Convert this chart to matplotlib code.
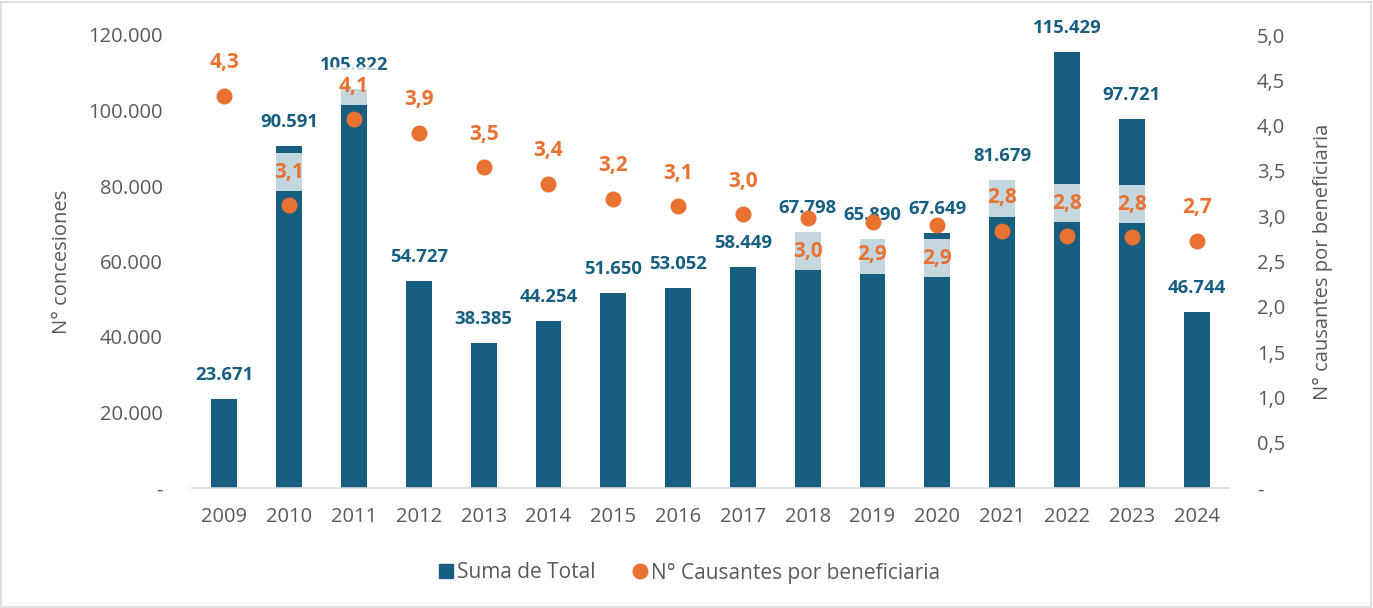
import numpy as np
import matplotlib
matplotlib.use("Agg")
import matplotlib.pyplot as plt
from matplotlib.ticker import FuncFormatter, MultipleLocator
from matplotlib.lines import Line2D
from matplotlib.patches import Rectangle

years = ["2009", "2010", "2011", "2012", "2013", "2014", "2015", "2016",
         "2017", "2018", "2019", "2020", "2021", "2022", "2023", "2024"]
totals = [23671, 90591, 105822, 54727, 38385, 44254, 51650, 53052,
          58449, 67798, 65890, 67649, 81679, 115429, 97721, 46744]
ratios = [4.33, 3.12, 4.07, 3.92, 3.54, 3.36, 3.19, 3.11,
          3.02, 2.98, 2.94, 2.90, 2.84, 2.78, 2.77, 2.73]
labels_below = ["2018", "2019", "2020"]

BLUE = "#175E80"
ORANGE = "#E97132"
GRAY = "#595959"

plt.rcParams['font.family'] = ['Open Sans', 'DejaVu Sans']

W, H = 1373, 608
fig = plt.figure(figsize=(W / 100, H / 100), dpi=100)
fig.patches.append(Rectangle((1 / W, 1 / H), 1 - 3 / W, 1 - 3 / H, transform=fig.transFigure,
                             fill=False, edgecolor="#D9D9D9", linewidth=1.2))

ax = fig.add_axes([192 / W, (H - 488) / H, (1229 - 192) / W, (488 - 35) / H])
x = np.arange(len(years))
ax.bar(x, totals, width=0.4, color=BLUE, zorder=2)
ax.set_xlim(-0.5, len(years) - 0.5)
ax.set_ylim(0, 120000)
ax.yaxis.set_major_locator(MultipleLocator(20000))
ax.yaxis.set_major_formatter(FuncFormatter(
    lambda v, p: "-" if v == 0 else f"{int(round(v)):,}".replace(",", ".")))
ax.set_xticks(x)
ax.set_xticklabels(years)
for s in ["top", "left", "right"]:
    ax.spines[s].set_visible(False)
ax.spines["bottom"].set_color("#D9D9D9")
ax.spines["bottom"].set_linewidth(1.2)
ax.tick_params(axis="both", length=0, labelsize=14.5, labelcolor=GRAY)
ax.tick_params(axis="y", pad=21)
ax.tick_params(axis="x", pad=14)
ax.set_ylabel("N° concesiones", fontsize=14.5, color=GRAY, labelpad=12)

for i, v in enumerate(totals):
    ax.annotate(f"{v:,}".replace(",", "."), (x[i], v), xytext=(0, 24 * 0.72),
                textcoords="offset points", ha="center", va="center",
                fontsize=13.3, fontweight="bold", color=BLUE, zorder=3)

ax2 = ax.twinx()
ax2.set_ylim(0, 5)
ax2.yaxis.set_major_locator(MultipleLocator(0.5))
ax2.yaxis.set_major_formatter(FuncFormatter(
    lambda v, p: "-" if abs(v) < 1e-9 else f"{v:.1f}".replace(".", ",")))
for s in ax2.spines.values():
    s.set_visible(False)
ax2.tick_params(axis="y", length=0, labelsize=14.5, labelcolor=GRAY, pad=20)
ax2.set_ylabel("N° causantes por beneficiaria", fontsize=14.5, color=GRAY, labelpad=20)

ax2.plot(x, ratios, linestyle="none", marker="o", ms=11.5, color=ORANGE,
         markeredgewidth=0, zorder=3)
for i, r in enumerate(ratios):
    dy = -33 if years[i] in labels_below else 33
    ax2.annotate(f"{r:.1f}".replace(".", ","), (x[i], r), xytext=(0, dy * 0.72),
                 textcoords="offset points", ha="center", va="center",
                 fontsize=15, fontweight="bold", color=ORANGE, zorder=4,
                 bbox=dict(boxstyle="square,pad=0.41", fc="white", ec="none", alpha=0.75))

handles = [
    Line2D([], [], linestyle="none", marker="s", ms=10.5, color=BLUE, label="Suma de Total"),
    Line2D([], [], linestyle="none", marker="o", ms=10.5, color=ORANGE,
           label="N° Causantes por beneficiaria"),
]
fig.legend(handles=handles, loc="center", bbox_to_anchor=(0.502, 1 - 573 / H), ncol=2,
           frameon=False, fontsize=15, labelcolor=GRAY, handletextpad=0.12,
           columnspacing=1.75, handlelength=0.8)

fig.savefig("out.png", dpi=100)
